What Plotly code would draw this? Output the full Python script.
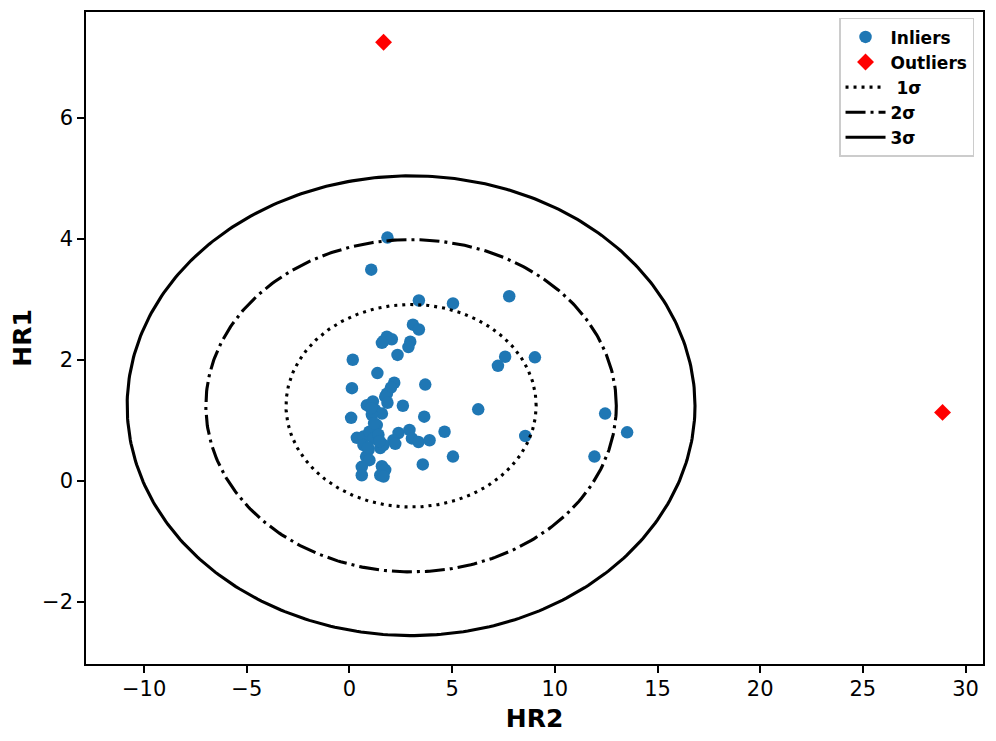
import numpy as np
import plotly.graph_objects as go

# inlier points (HR2, HR1)
inlier_hr2 = [1.85, 1.06, 3.38, 5.04, 7.78, 3.09, 3.38, 1.66, 1.82, 2.06, 1.58,
              2.96, 2.87, 2.34, 0.16, 1.36, 0.12, 2.18, 2.02, 1.82, 1.74, 1.85,
              3.69, 2.60, 0.85, 1.14, 1.25, 1.58, 1.09, 0.08, 3.64, 1.33, 4.63,
              2.39, 2.92, 3.04, 3.36, 3.90, 2.14, 2.23, 0.36, 0.68, 0.97, 1.17,
              1.41, 1.50, 0.68, 0.93, 1.50, 1.66, 0.81, 0.97, 0.60, 0.60, 1.58,
              1.74, 1.50, 1.66, 3.57, 5.04, 7.58, 7.23, 9.03, 6.27, 8.56, 12.45,
              11.93, 13.52, 1.05, 1.20, 1.45, 0.90]
inlier_hr1 = [4.02, 3.49, 2.98, 2.93, 3.05, 2.58, 2.50, 2.31, 2.38, 2.34, 2.28,
              2.30, 2.21, 2.08, 2.00, 1.78, 1.53, 1.62, 1.54, 1.44, 1.39, 1.29,
              1.59, 1.24, 1.25, 1.31, 1.17, 1.11, 1.09, 1.04, 1.06, 0.92, 0.81,
              0.79, 0.84, 0.70, 0.64, 0.67, 0.67, 0.61, 0.71, 0.73, 0.81, 0.70,
              0.76, 0.64, 0.59, 0.51, 0.54, 0.59, 0.40, 0.34, 0.23, 0.09, 0.24,
              0.18, 0.09, 0.07, 0.27, 0.40, 2.05, 1.90, 2.04, 1.18, 0.74, 1.11,
              0.40, 0.80, 1.20, 0.95, 0.65, 0.55]

# outliers
outlier_hr2 = [1.66, 28.88]
outlier_hr1 = [7.25, 1.13]

# confidence ellipse parameters
center = (3.0, 1.24)
sigma_hr2 = 4.02
sigma_hr1 = 1.105
sigma_probs = [0.6827, 0.9545, 0.9973]
sigma_names = [" 1σ", "2σ", "3σ"]
sigma_dashes = ["3px,5px", "20px,5px,3px,5px", "solid"]

x_ticks = [-10, -5, 0, 5, 10, 15, 20, 25, 30]
y_ticks = [-2, 0, 2, 4, 6]

fig = go.Figure()

fig.add_trace(go.Scatter(
    x=inlier_hr2, y=inlier_hr1, mode="markers", name="Inliers",
    marker=dict(color="#1f77b4", size=12.5, line=dict(width=0))
))
fig.add_trace(go.Scatter(
    x=outlier_hr2, y=outlier_hr1, mode="markers", name="Outliers",
    marker=dict(color="red", size=13, symbol="diamond", line=dict(width=0))
))

theta = np.linspace(0, 2 * np.pi, 400)
for prob, name, dash in zip(sigma_probs, sigma_names, sigma_dashes):
    # 2 dof chi-square radius
    k = np.sqrt(-2 * np.log(1 - prob))
    ex = center[0] + k * sigma_hr2 * np.cos(theta)
    ey = center[1] + k * sigma_hr1 * np.sin(theta)
    fig.add_trace(go.Scatter(
        x=ex, y=ey, mode="lines", name=name,
        line=dict(color="black", width=3.1, dash=dash)
    ))

def minus(v):
    return str(v).replace("-", "\u2212")

axis_style = dict(
    showgrid=False, zeroline=False, showline=True, linecolor="black",
    linewidth=1.6, mirror=True, ticks="outside", ticklen=7, tickwidth=1.6,
    tickcolor="black", tickfont=dict(size=21, color="black"),
    automargin=False,
)

# page body has an 8px margin, so the figure is 16px smaller than the window
fig.update_layout(
    width=980, height=725,
    margin=dict(l=78, r=5, t=4, b=69),
    plot_bgcolor="white", paper_bgcolor="white",
    font=dict(family="DejaVu Sans", color="black"),
    xaxis=dict(range=[-12.83, 30.85], tickvals=x_ticks,
               ticktext=[minus(v) for v in x_ticks],
               ticklabelstandoff=-2,
               title=dict(text="<b>HR2</b>", font=dict(size=25), standoff=10),
               **axis_style),
    yaxis=dict(range=[-3.03, 7.75], tickvals=y_ticks,
               ticktext=[minus(v) for v in y_ticks],
               title=dict(text="<b>HR1</b>", font=dict(size=25), standoff=14),
               **axis_style),
    legend=dict(x=0.99, y=0.991, xanchor="right", yanchor="top",
                bgcolor="white", bordercolor="#cccccc", borderwidth=1.5,
                font=dict(size=17, family="DejaVu Sans"),
                itemwidth=40, tracegroupgap=0),
    showlegend=True,
)

# bold legend labels
for tr in fig.data:
    tr.name = "<b>" + tr.name + "</b>"

fig.write_html("out.html")
